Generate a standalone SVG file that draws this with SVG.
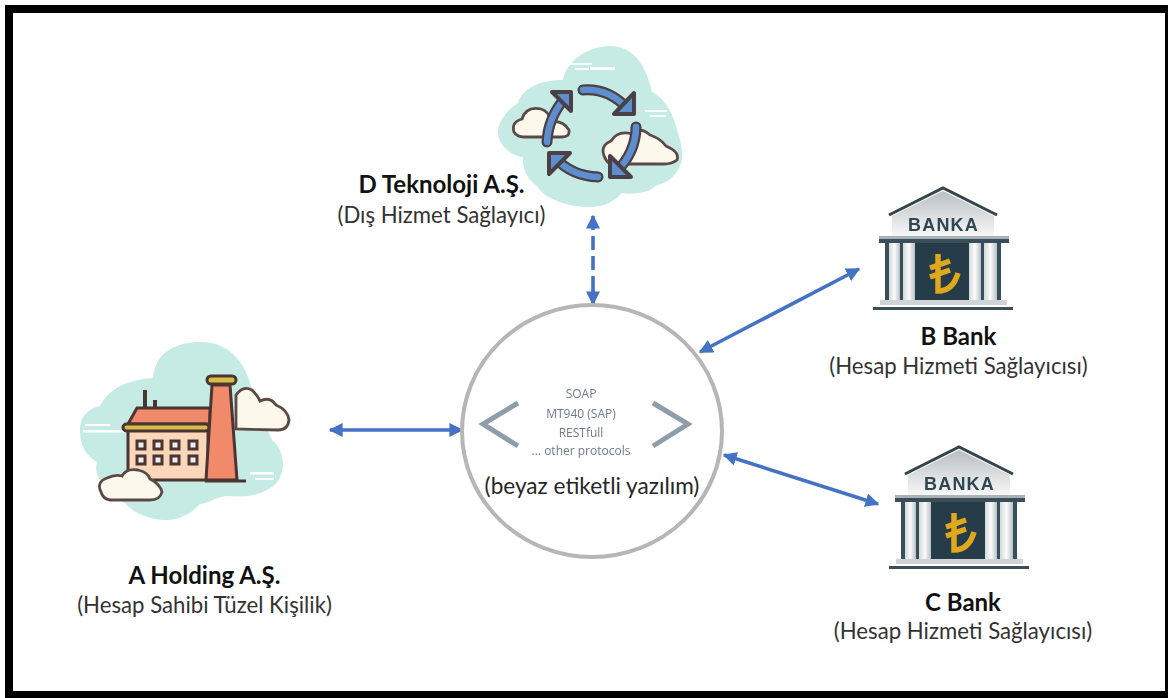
<svg xmlns="http://www.w3.org/2000/svg" xmlns:xlink="http://www.w3.org/1999/xlink" width="1169" height="698" viewBox="0 0 1169 698">
<style>
text{font-family:Lato,"Open Sans","Liberation Sans",sans-serif;text-anchor:middle;fill:#262626}
.t{font-size:24px;font-weight:700;fill:#111}
.s{font-size:22.2px;fill:#333}
.p{font-family:"Open Sans","Liberation Sans",sans-serif;font-size:12px;fill:#6f7b89}
.c{stroke:#4472c4;stroke-width:3.6;fill:none;marker-start:url(#h);marker-end:url(#h)}
.cl{fill:#c6ebe5}
.sc{fill:#fdf8ec;stroke:#5c4a47;stroke-width:2.8}
.da{fill:none;stroke:#4c3f45;stroke-width:11;stroke-linecap:round;stroke-linejoin:round}
.bl{fill:none;stroke:#5d8fcf;stroke-width:6.5;stroke-linecap:round;stroke-linejoin:round}
.hd{fill:#5d8fcf;stroke:#4c3f45;stroke-width:4;stroke-linejoin:round}
.o{stroke:#4a3532;stroke-width:3}
</style>
<defs>
<marker id="h" viewBox="0 0 10 10" refX="9" refY="5" markerWidth="14" markerHeight="14" markerUnits="userSpaceOnUse" orient="auto-start-reverse"><path d="M0 0L10 5L0 10z" fill="#4472c4"/></marker>
<filter id="b" x="-5%" y="-5%" width="110%" height="110%"><feGaussianBlur stdDeviation="0.7"/></filter>
<filter id="b2" x="-5%" y="-5%" width="110%" height="110%"><feGaussianBlur stdDeviation="0.35"/></filter>
<linearGradient id="ped" x1="0" y1="0" x2="0" y2="1"><stop offset="0" stop-color="#b9bec2"/><stop offset="1" stop-color="#f7f7f7"/></linearGradient>
<linearGradient id="col" x1="0" y1="0" x2="1" y2="0"><stop offset="0" stop-color="#d4d8da"/><stop offset=".5" stop-color="#fbfbfb"/><stop offset="1" stop-color="#b9c0c4"/></linearGradient>
<g id="bank" filter="url(#b)">
<path d="M892 216L943 191L994 216L994 236L892 236z" fill="url(#ped)"/>
<path d="M889 215L943 188L997 215" fill="none" stroke="#33444e" stroke-width="3"/>
<text x="943.500" y="231" style="font-family:'Liberation Sans',sans-serif;font-size:18px;font-weight:700;letter-spacing:1.2px;fill:#2f4652">BANKA</text>
<rect x="879" y="236" width="130" height="3" fill="#aab2b6"/>
<rect x="879" y="239" width="130" height="4" fill="#3b4d58"/>
<rect x="885" y="243" width="116" height="57" fill="#34505c"/>
<rect x="915" y="243" width="55" height="57" fill="#253c48"/>
<rect x="889" y="243" width="11" height="57" fill="url(#col)"/>
<rect x="903" y="243" width="12" height="57" fill="url(#col)"/>
<rect x="969" y="243" width="12" height="57" fill="url(#col)"/>
<rect x="984" y="243" width="13" height="57" fill="url(#col)"/>
<rect x="880" y="300" width="127" height="5" fill="#d0d4d6"/>
<rect x="873" y="307" width="140" height="3" fill="#3b4d58"/>
<path d="M938 254V291Q953 291 958 273M930 268L950 261M930 277L950 270" fill="none" stroke="#e0a81c" stroke-width="5.5"/>
</g>
</defs>
<rect width="1169" height="698" fill="#fff"/>
<path d="M5 5H1168V698H5zM13 13V691H1165V13z" fill="#000" fill-rule="evenodd"/>

<g id="connectors">
<line class="c" x1="593" y1="216" x2="593" y2="304" style="stroke-dasharray:14 6 14 6 14 6 30"/>
<line class="c" x1="330" y1="430" x2="462" y2="430"/>
<line class="c" x1="700" y1="352" x2="859" y2="269"/>
<line class="c" x1="724" y1="455" x2="878" y2="504"/>
</g>

<g id="node-d" filter="url(#b)">
<path class="cl" d="M498 130C500 118 510 108 518 103C522 88 540 80 563 80C566 60 590 46 610 46C630 46 645 60 652 92C665 98 674 115 677 130C682 145 684 160 680 165C676 178 665 183 655 186C650 193 630 195 622 193C612 204 600 207 590 207C570 207 545 200 537 186C525 178 522 165 523 157C510 155 497 145 498 130z"/>
<g fill="#fff"><rect x="570" y="63" width="22" height="2"/><rect x="575" y="68" width="14" height="2"/><rect x="590" y="67" width="25" height="3"/><rect x="645" y="110" width="22" height="2"/><rect x="650" y="115" width="16" height="2"/></g>
<path class="sc" d="M514 132Q511 122 522 119Q526 106 541 109Q549 111 551 122Q563 120 569 130Q570 137 562 137H524Q517 137 514 132z"/>
<path class="sc" d="M605 158Q599 146 611 141Q618 130 632 134Q640 126 650 135Q660 138 666 146Q680 152 677 160Q672 164 664 164H612Q608 164 605 158z"/>
<g class="da"><path d="M547 142Q548 118 565 98"/><path d="M583 90Q608 88 627 108"/><path d="M636 127Q636 152 616 172"/><path d="M598 177Q572 176 555 158"/></g>
<g class="bl"><path d="M547 142Q548 118 565 98"/><path d="M583 90Q608 88 627 108"/><path d="M636 127Q636 152 616 172"/><path d="M598 177Q572 176 555 158"/></g>
<path class="hd" d="M552 92H571V111z"/><path class="hd" d="M634 93V114H614z"/><path class="hd" d="M610 156V177H631z"/><path class="hd" d="M549 174V153H570z"/>
</g>

<g id="node-a" filter="url(#b)">
<path class="cl" d="M80 430C80 415 90 408 100 406C108 390 125 380 153 378C155 350 180 342 200 342C228 342 245 360 252 390C258 410 265 425 272 440C285 450 288 475 272 487C258 497 240 497 227 496C215 497 210 503 200 504C190 515 178 520 167 520C148 520 133 512 127 505C110 490 92 480 97 462C85 455 80 445 80 430z"/>
<g fill="#fff"><rect x="83" y="430" width="42" height="2.500"/><rect x="85" y="424" width="25" height="2"/><rect x="250" y="472" width="24" height="2.500"/><rect x="255" y="478" width="19" height="2"/></g>
<path class="sc" d="M236 429V395Q243 385 252 390Q258 396 260 401Q270 396 276 405Q288 410 289 420Q288 430 278 430z"/>
<path d="M145 390V416M155 400V416" stroke="#4a3532" stroke-width="4" fill="none"/>
<path class="o" d="M128 424L137 408H210V424z" fill="#f08a6a"/>
<rect class="o" x="128" y="430" width="80" height="50" fill="#fbd6b8"/>
<rect class="o" x="123" y="424" width="86" height="7" rx="3.500" fill="#d8bd4a"/>
<g fill="#eee" stroke="#4a3532" stroke-width="3"><rect x="137" y="441" width="8" height="8"/><rect x="154" y="441" width="8" height="8"/><rect x="171" y="441" width="8" height="8"/><rect x="189" y="441" width="8" height="8"/><rect x="137" y="456" width="8" height="8"/><rect x="154" y="456" width="8" height="8"/><rect x="171" y="456" width="8" height="8"/><rect x="189" y="456" width="8" height="8"/></g>
<path class="o" d="M212 385H230L237 480H206z" fill="#f08a6a"/>
<rect class="o" x="207" y="376" width="29" height="8" rx="4" fill="#d8bd4a"/>
<path d="M205 481H246" stroke="#4a3532" stroke-width="3"/>
<path class="sc" d="M101 492Q96 482 107 478Q115 474 122 476Q126 468 138 470Q148 472 150 479Q160 484 162 492Q160 500 150 500H110Q103 499 101 492z"/>
</g>

<g id="node-b"><use href="#bank" xlink:href="#bank"/></g>
<g id="node-c"><use href="#bank" xlink:href="#bank" x="16" y="259"/></g>

<g id="node-center">
<ellipse cx="592" cy="431" rx="130" ry="126" fill="#fff" stroke="#b7b6b6" stroke-width="4"/>
<path d="M518 403L483 424L518 446M653 403L688 424L653 446" fill="none" stroke="#8f9cab" stroke-width="5" filter="url(#b2)"/>
<g filter="url(#b2)">
<text class="p" x="581" y="398">SOAP</text>
<text class="p" x="581" y="418">MT940 (SAP)</text>
<text class="p" x="581" y="437">RESTfull</text>
<text class="p" x="581" y="455">... other protocols</text>
</g>
<text x="592" y="494" style="font-size:22.600px">(beyaz etiketli yazılım)</text>
</g>

<g id="labels">
<text class="t" x="441.500" y="193">D Teknoloji A.Ş.</text>
<text class="s" x="441.500" y="223">(Dış Hizmet Sağlayıcı)</text>
<text class="t" x="958.500" y="345">B Bank</text>
<text class="s" x="958.500" y="374">(Hesap Hizmeti Sağlayıcısı)</text>
<text class="t" x="963" y="611">C Bank</text>
<text class="s" x="963" y="639">(Hesap Hizmeti Sağlayıcısı)</text>
<text class="t" x="204.500" y="584">A Holding A.Ş.</text>
<text class="s" x="204.500" y="613">(Hesap Sahibi Tüzel Kişilik)</text>
</g>
</svg>
